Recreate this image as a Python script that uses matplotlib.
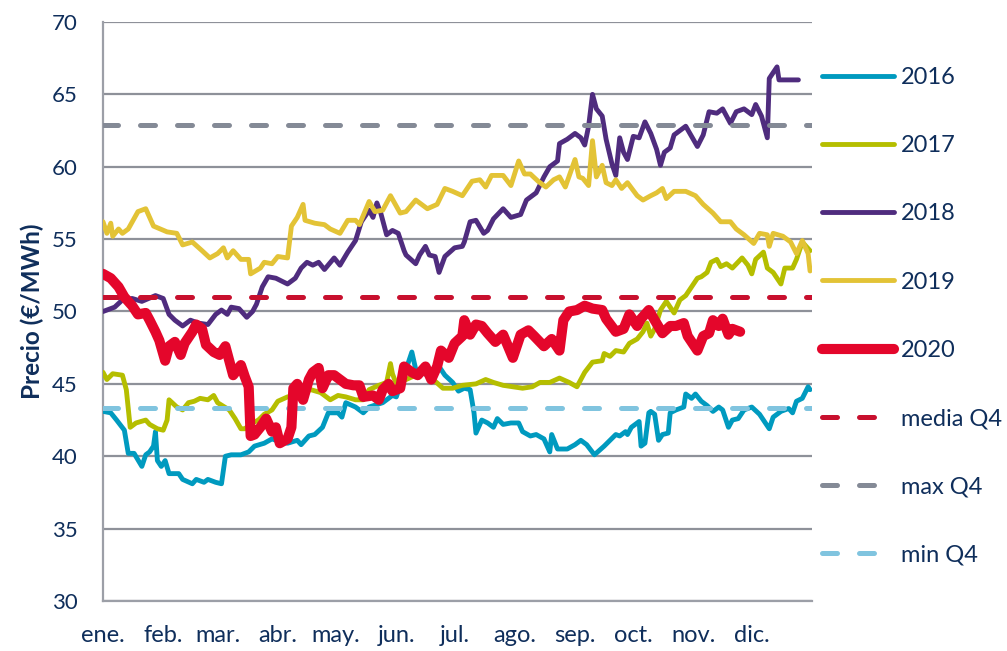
import matplotlib
matplotlib.use("Agg")
import matplotlib.pyplot as plt
from matplotlib.ticker import FixedLocator

plt.rcParams['font.family'] = ['Lato', 'DejaVu Sans']

# ---------------- data ----------------
month_labels = ["ene.", "feb.", "mar.", "abr.", "may.", "jun.", "jul.",
                "ago.", "sep.", "oct.", "nov.", "dic."]
month_start_days = [0, 31, 59, 90, 120, 151, 181, 212, 243, 273, 304, 334]

days_2016 = [0, 4, 7, 11, 13, 16, 20, 22, 24, 26, 27, 28, 30, 32, 34, 39, 41, 46, 48, 52, 54, 58, 61, 63,
             66, 71, 75, 78, 83, 87, 91, 95, 100, 102, 106, 109, 113, 116, 121, 123, 125, 130, 134, 137,
             144, 149, 151, 154, 157, 159, 161, 167, 173, 176, 180, 183, 186, 189, 191, 192, 195, 198,
             201, 203, 206, 210, 214, 216, 220, 223, 227, 230, 231, 234, 239, 243, 246, 249, 253, 258,
             261, 264, 266, 269, 270, 272, 274, 276, 277, 279, 281, 282, 284, 286, 288, 291, 292, 295,
             299, 300, 303, 305, 308, 311, 314, 317, 319, 322, 324, 327, 330, 334, 338, 341, 343, 345,
             349, 353, 355, 357, 360, 363, 364]
vals_2016 = [43.1, 43.0, 42.5, 41.8, 40.2, 40.2, 39.3, 40.1, 40.3, 40.7, 41.7, 39.7, 39.3, 39.7, 38.8,
             38.8, 38.4, 38.1, 38.4, 38.2, 38.4, 38.2, 38.1, 40.0, 40.1, 40.1, 40.3, 40.7, 40.9, 41.2,
             41.0, 40.9, 41.1, 40.8, 41.4, 41.5, 42.0, 43.0, 43.0, 42.7, 43.7, 43.4, 43.0, 43.4, 43.7,
             44.2, 44.1, 45.3, 46.4, 47.2, 46.0, 45.6, 46.2, 45.6, 45.1, 44.5, 44.7, 44.6, 43.0, 41.6,
             42.5, 42.3, 42.0, 42.6, 42.2, 42.3, 42.3, 41.7, 41.4, 41.5, 41.2, 40.3, 41.5, 40.5, 40.5,
             40.8, 41.1, 40.8, 40.1, 40.7, 41.1, 41.5, 41.4, 41.7, 41.5, 42.0, 42.2, 42.4, 40.7, 40.9,
             43.0, 43.1, 42.9, 41.1, 41.5, 41.6, 43.0, 43.2, 43.4, 44.3, 44.0, 44.3, 43.8, 43.5, 43.1,
             43.4, 43.2, 42.0, 42.5, 42.6, 43.2, 43.4, 42.9, 42.3, 41.9, 42.7, 43.1, 43.3, 43.0, 43.8,
             44.0, 44.8, 44.6]

days_2017 = [0, 2, 5, 10, 12, 14, 17, 22, 24, 28, 31, 33, 34, 38, 41, 44, 47, 50, 54, 57, 59, 65, 68,
             71, 73, 77, 80, 83, 87, 90, 95, 99, 107, 112, 117, 121, 125, 130, 134, 137, 142, 146, 148,
             149, 151, 156, 161, 167, 170, 175, 180, 185, 192, 197, 201, 206, 211, 216, 221, 225, 230,
             235, 240, 244, 248, 252, 257, 258, 261, 264, 268, 271, 275, 278, 280, 282, 284, 287, 290,
             294, 297, 300, 303, 306, 308, 311, 313, 316, 318, 321, 324, 329, 332, 334, 336, 340, 342,
             345, 349, 351, 355, 357, 360, 364]
vals_2017 = [45.8, 45.3, 45.7, 45.6, 44.6, 42.0, 42.3, 42.5, 42.2, 41.9, 41.8, 42.5, 43.9, 43.4, 43.2,
             43.7, 43.8, 44.0, 43.9, 44.2, 43.7, 43.2, 42.6, 41.9, 41.9, 42.3, 42.5, 42.9, 43.2, 43.8,
             44.1, 44.2, 44.6, 44.4, 43.9, 44.2, 44.1, 43.9, 43.9, 44.6, 44.9, 45.1, 46.4, 45.7, 45.0,
             45.3, 45.6, 45.8, 45.3, 44.7, 44.7, 44.9, 45.0, 45.3, 45.1, 44.9, 44.8, 44.7, 44.8, 45.1,
             45.1, 45.4, 45.1, 44.8, 45.8, 46.5, 46.6, 47.1, 46.9, 47.3, 47.2, 47.8, 48.1, 48.6, 49.2,
             48.3, 48.8, 50.1, 50.7, 49.9, 50.8, 51.1, 51.7, 52.3, 52.4, 52.7, 53.4, 53.6, 53.1, 53.3,
             53.0, 53.7, 53.2, 52.6, 53.6, 54.1, 53.0, 52.7, 51.9, 53.0, 53.0, 53.6, 54.8, 54.2]

days_2018 = [0, 6, 10, 15, 20, 27, 31, 34, 37, 41, 45, 49, 54, 58, 61, 64, 66, 70, 74, 77, 79, 82, 85,
             89, 95, 99, 102, 105, 108, 111, 114, 119, 122, 126, 130, 133, 137, 139, 141, 143, 146, 149,
             152, 155, 156, 161, 163, 166, 168, 171, 173, 176, 181, 185, 186, 189, 192, 196, 198, 201,
             206, 210, 215, 218, 223, 227, 230, 234, 235, 239, 243, 246, 248, 250, 252, 254, 257, 259,
             262, 264, 266, 268, 270, 273, 276, 279, 282, 285, 287, 289, 292, 294, 300, 303, 306, 309,
             312, 316, 319, 323, 326, 330, 334, 336, 339, 342, 343, 347, 348, 358]
vals_2018 = [50.0, 50.3, 50.8, 50.9, 50.7, 51.1, 50.9, 49.8, 49.4, 49.0, 49.4, 49.2, 49.1, 49.8, 50.1,
             49.8, 50.3, 50.2, 49.6, 50.0, 50.5, 51.7, 52.4, 52.3, 51.9, 52.3, 53.0, 53.4, 53.2, 53.4,
             52.9, 53.7, 53.2, 54.1, 54.9, 56.2, 57.0, 56.5, 57.5, 56.8, 55.3, 55.6, 55.4, 54.2, 53.9,
             53.3, 53.9, 54.5, 53.9, 53.8, 52.7, 53.8, 54.4, 54.5, 54.8, 56.2, 56.3, 55.4, 55.6, 56.4,
             57.1, 56.5, 56.7, 57.7, 58.2, 59.3, 60.0, 60.4, 61.6, 61.9, 62.3, 62.0, 61.5, 62.8, 65.0,
             64.0, 63.5, 61.9, 60.2, 59.4, 62.0, 61.0, 60.5, 62.1, 62.0, 63.1, 62.3, 61.2, 60.1, 61.0,
             61.3, 62.2, 62.8, 62.1, 61.4, 62.2, 63.8, 63.7, 64.0, 63.0, 63.8, 64.0, 63.6, 64.3, 63.5,
             62.0, 66.1, 66.9, 66.0, 66.0]

days_2019 = [0, 2, 4, 5, 8, 10, 13, 18, 22, 26, 33, 38, 41, 46, 51, 55, 59, 62, 64, 67, 71, 75, 76, 81,
             83, 87, 90, 95, 97, 100, 103, 104, 109, 114, 117, 122, 126, 130, 132, 137, 140, 144, 148,
             153, 156, 161, 167, 172, 176, 180, 185, 190, 194, 197, 200, 206, 210, 214, 217, 220, 224,
             228, 232, 235, 238, 243, 245, 247, 250, 252, 254, 257, 259, 262, 264, 267, 270, 275, 278,
             282, 285, 288, 290, 294, 300, 305, 309, 314, 318, 323, 326, 330, 335, 338, 342, 343, 345,
             350, 354, 357, 360, 363, 364]
vals_2019 = [56.2, 55.4, 56.1, 55.2, 55.7, 55.4, 55.7, 56.9, 57.1, 55.9, 55.5, 55.4, 54.6, 54.8, 54.2,
             53.7, 54.0, 54.4, 53.7, 54.2, 53.6, 53.6, 52.6, 53.0, 53.4, 53.3, 53.8, 53.7, 55.9, 56.5,
             57.4, 56.3, 56.1, 56.0, 55.7, 55.4, 56.3, 56.3, 56.0, 57.6, 56.9, 57.0, 58.0, 56.8, 56.9,
             57.7, 57.1, 57.4, 58.5, 58.3, 58.0, 59.0, 59.1, 58.6, 59.4, 59.4, 58.7, 60.4, 59.5, 59.5,
             59.0, 58.6, 59.1, 59.3, 58.6, 60.5, 59.3, 59.2, 58.7, 61.8, 59.3, 60.1, 58.9, 58.7, 59.1,
             58.5, 58.9, 58.0, 57.7, 58.0, 58.2, 58.5, 57.8, 58.3, 58.3, 58.0, 57.4, 56.8, 56.2, 56.2,
             55.7, 55.3, 54.7, 55.4, 55.3, 54.5, 55.4, 55.2, 54.8, 54.0, 54.9, 54.0, 52.8]

days_2020 = [0, 4, 8, 11, 15, 18, 22, 24, 27, 29, 32, 34, 37, 40, 42, 46, 48, 51, 53, 57, 60, 63, 65,
             67, 71, 73, 75, 76, 78, 81, 84, 87, 89, 91, 95, 97, 98, 100, 103, 106, 108, 111, 113, 116,
             119, 122, 125, 129, 132, 134, 139, 142, 144, 147, 149, 153, 155, 159, 162, 166, 169, 172,
             174, 178, 181, 185, 186, 189, 192, 195, 198, 202, 206, 211, 215, 219, 222, 227, 231, 235,
             237, 240, 244, 248, 252, 257, 259, 264, 268, 271, 275, 277, 281, 284, 288, 292, 295, 299,
             301, 306, 309, 312, 314, 317, 319, 322, 324, 328]
vals_2020 = [52.6, 52.3, 51.7, 51.0, 50.4, 49.8, 49.9, 49.4, 48.6, 48.0, 46.6, 47.6, 47.9, 47.0, 47.8,
             48.6, 49.1, 48.8, 47.7, 47.2, 47.0, 47.6, 46.6, 45.6, 46.3, 45.5, 44.8, 41.4, 41.5, 42.0,
             42.6, 41.7, 42.0, 40.9, 41.2, 42.0, 44.7, 45.0, 43.9, 45.3, 45.8, 46.1, 44.7, 45.6, 45.6,
             45.3, 45.0, 44.9, 44.9, 44.1, 44.2, 43.9, 44.6, 45.0, 44.5, 44.7, 46.2, 45.8, 45.6, 46.2,
             45.3, 46.2, 47.3, 46.8, 47.8, 48.3, 49.4, 48.4, 49.1, 49.0, 48.5, 47.9, 48.4, 46.8, 48.4,
             48.7, 48.3, 47.6, 48.1, 47.3, 49.4, 50.0, 50.1, 50.4, 50.2, 50.1, 49.5, 48.6, 48.8, 49.8,
             49.0, 49.5, 50.1, 49.4, 48.5, 49.0, 49.0, 49.2, 48.3, 47.3, 48.3, 48.5, 49.4, 49.0, 49.5,
             48.4, 48.8, 48.6]

media_q4 = 51.0
max_q4 = 62.9
min_q4 = 43.3

series_labels = ["2016", "2017", "2018", "2019", "2020"]
ref_labels = ["media Q4", "max Q4", "min Q4"]

# ---------------- style ----------------
navy = "#0F2E5B"
c2016, c2017, c2018, c2019, c2020 = "#009ABF", "#B5BE00", "#4F2C7E", "#E3C336", "#E4062B"
c_media, c_max, c_min = "#C8102E", "#848A96", "#80C4DF"
grid_c = "#8E9199"

fig = plt.figure(figsize=(10.07, 6.51), dpi=100)
ax = fig.add_axes([103 / 1007, 1 - 601 / 651, 709 / 1007, 579 / 651])

lw = 3.5
kw = dict(solid_joinstyle="round", solid_capstyle="round")
ax.plot(days_2016, vals_2016, color=c2016, lw=lw, label=series_labels[0], zorder=3, **kw)
ax.plot(days_2017, vals_2017, color=c2017, lw=lw, label=series_labels[1], zorder=3, **kw)
ax.plot(days_2018, vals_2018, color=c2018, lw=lw, label=series_labels[2], zorder=3, **kw)
ax.plot(days_2019, vals_2019, color=c2019, lw=lw, label=series_labels[3], zorder=3, **kw)
ax.plot(days_2020, vals_2020, color=c2020, lw=7.3, label=series_labels[4], zorder=5, **kw)

dls = (0, (3.0, 4.4))
dlw = 3.6
ax.axhline(media_q4, color=c_media, lw=dlw, ls=dls, dash_capstyle="round", label=ref_labels[0], zorder=4)
ax.axhline(max_q4, color=c_max, lw=dlw, ls=dls, dash_capstyle="round", label=ref_labels[1], zorder=4)
ax.axhline(min_q4, color=c_min, lw=dlw, ls=dls, dash_capstyle="round", label=ref_labels[2], zorder=4)

ax.set_xlim(0, 365)
ax.set_ylim(30, 70)
ax.yaxis.set_major_locator(FixedLocator(range(30, 71, 5)))
ax.set_xticks(month_start_days)
ax.set_xticklabels(month_labels)

ax.grid(axis="y", color=grid_c, lw=1.6, zorder=1)
ax.set_axisbelow(True)
for s in ["top", "right"]:
    ax.spines[s].set_visible(False)
for s in ["left", "bottom"]:
    ax.spines[s].set_color("#9C9FA7")
    ax.spines[s].set_linewidth(1.6)

ax.tick_params(axis="both", length=0, labelcolor=navy)
ax.tick_params(axis="y", pad=18.5, labelsize=16)
ax.tick_params(axis="x", pad=17, labelsize=17)

ax.set_ylabel("Precio (€/MWh)", fontsize=17.5, fontweight="bold", color=navy)
ax.yaxis.set_label_coords(-0.083, 0.5)

leg = ax.legend(loc="upper left", bbox_to_anchor=(1.014, 0.9223), frameon=False,
                fontsize=17, labelcolor=navy, handlelength=3.05, handletextpad=0.28,
                labelspacing=2.0, borderpad=0, borderaxespad=0)

fig.savefig("out.png", dpi=100)
